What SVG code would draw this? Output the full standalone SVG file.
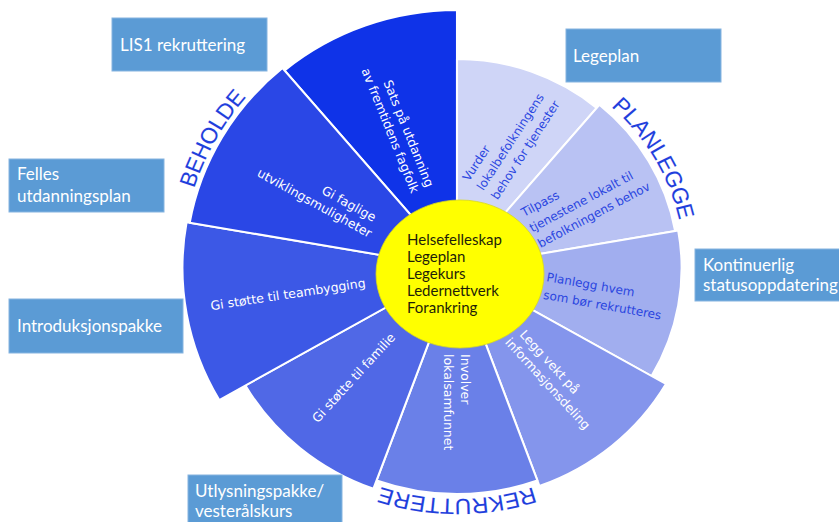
<svg xmlns="http://www.w3.org/2000/svg" width="839" height="522" viewBox="0 0 839 522">
<style>
.seg{stroke:#ffffff;stroke-width:2;stroke-linejoin:round}
.w{font-family:"DejaVu Sans",sans-serif;font-size:12.5px;fill:#ffffff}
.b{font-family:"DejaVu Sans",sans-serif;font-size:12px;fill:#2a45e0}
.lab{font-family:"Liberation Sans",Arial,sans-serif;font-size:22px;fill:#1f3fdc;stroke:#dfe5ff;stroke-width:0.5;paint-order:stroke}
.box{fill:#5b9bd5;stroke:#86b4e0;stroke-width:1}
.bt{font-family:Lato,"Open Sans",sans-serif;font-size:17px;fill:#ffffff}
.ct{font-family:Lato,"Open Sans",sans-serif;font-size:15px;fill:#1e1e08}
</style>
<defs>
<path id="arcBeholde" d="M-265,0 A265,265 0 0 1 -132.5,-229.5"/>
<path id="arcPlanlegge" d="M74.9,-205.8 A219,219 0 0 1 215.7,38"/>
<path id="arcRekruttere" d="M148.5,176.9 A231,231 0 0 1 -148.5,176.9"/>
</defs>
<rect width="839" height="522" fill="#ffffff"/>
<g id="wheel" transform="translate(457,268) scale(1.04,1)">
<path id="seg-sats" class="seg" fill="#0f33e8" d="M0,0 L-165.8,-197.6 A258,258 0 0 1 0,-258 Z"/>
<path id="seg-vurder" class="seg" fill="#cfd5f7" d="M0,0 L0,-209 A209,209 0 0 1 134.3,-160.1 Z"/>
<path id="seg-tilpass" class="seg" fill="#b9c2f3" d="M0,0 L136.9,-163.2 A213,213 0 0 1 209.8,-37 Z"/>
<path id="seg-planlegg" class="seg" fill="#a1aeef" d="M0,0 L212.7,-37.5 A216,216 0 0 1 187.1,108 Z"/>
<path id="seg-legg" class="seg" fill="#8495ec" d="M0,0 L200.9,116 A232,232 0 0 1 79.3,218 Z"/>
<path id="seg-involver" class="seg" fill="#6a80e8" d="M0,0 L77.3,212.4 A226,226 0 0 1 -77.3,212.4 Z"/>
<path id="seg-familie" class="seg" fill="#5068e6" d="M0,0 L-80.4,220.8 A235,235 0 0 1 -203.5,117.5 Z"/>
<path id="seg-team" class="seg" fill="#3c58e6" d="M0,0 L-228.6,132 A264,264 0 0 1 -260,-45.8 Z"/>
<path id="seg-faglige" class="seg" fill="#2a47e6" d="M0,0 L-257,-45.3 A261,261 0 0 1 -167.8,-199.9 Z"/>
<text class="lab"><textPath href="#arcBeholde" startOffset="48%" text-anchor="middle">BEHOLDE</textPath></text>
<text class="lab"><textPath href="#arcPlanlegge" startOffset="50%" text-anchor="middle">PLANLEGGE</textPath></text>
<text class="lab"><textPath href="#arcRekruttere" startOffset="50%" text-anchor="middle">REKRUTTERE</textPath></text>
</g>
<g id="segment-texts">
<text class="w" transform="translate(426,188) rotate(68)" text-anchor="end"><tspan x="0" y="0">Sats på utdanning</tspan><tspan x="0" y="16">av fremtidens fagfolk</tspan></text>
<text class="w" transform="translate(373,222) rotate(29)" text-anchor="end"><tspan x="0" y="0">Gi faglige</tspan><tspan x="4" y="16">utviklingsmuligheter</tspan></text>
<text class="w" transform="translate(366,287) rotate(-8.5)" text-anchor="end">Gi støtte til teambygging</text>
<text class="w" transform="translate(396,338) rotate(-47.5)" text-anchor="end">Gi støtte til familie</text>
<text class="w" transform="translate(461,354) rotate(90)"><tspan x="0" y="0">Involver</tspan><tspan x="0" y="17">lokalsamfunnet</tspan></text>
<text class="w" transform="translate(519,335) rotate(47.5)"><tspan x="0" y="0">Legg vekt på</tspan><tspan x="-4" y="16">informasjonsdeling</tspan></text>
<text class="b" transform="translate(546,281) rotate(10)"><tspan x="0" y="0">Planlegg hvem</tspan><tspan x="0" y="18">som bør rekrutteres</tspan></text>
<text class="b" transform="translate(524,217) rotate(-28)"><tspan x="0" y="0">Tilpass</tspan><tspan x="0" y="17.5">tjenestene lokalt til</tspan><tspan x="0" y="35">befolkningens behov</tspan></text>
<text class="b" transform="translate(469,182) rotate(-57)"><tspan x="0" y="0">Vurder</tspan><tspan x="0" y="17">lokalbefolkningens</tspan><tspan x="0" y="34">behov for tjenester</tspan></text>
</g>
<g id="center">
<ellipse cx="460" cy="274" rx="84" ry="74" fill="#ffff00" stroke="#d8d820" stroke-width="0.8"/>
<text class="ct"><tspan x="407" y="245">Helsefelleskap</tspan><tspan x="407" y="262">Legeplan</tspan><tspan x="407" y="279">Legekurs</tspan><tspan x="407" y="296">Ledernettverk</tspan><tspan x="407" y="313">Forankring</tspan></text>
</g>
<g id="box-lis1"><rect class="box" x="112" y="18" width="155" height="53"/><text class="bt" x="120" y="51">LIS1 rekruttering</text></g>
<g id="box-felles"><rect class="box" x="9" y="159" width="155" height="53"/><text class="bt"><tspan x="17" y="180">Felles</tspan><tspan x="17" y="202">utdanningsplan</tspan></text></g>
<g id="box-intro"><rect class="box" x="9" y="299" width="174" height="54"/><text class="bt" x="17" y="332">Introduksjonspakke</text></g>
<g id="box-legeplan"><rect class="box" x="566" y="29" width="155" height="53"/><text class="bt" x="573" y="62">Legeplan</text></g>
<g id="box-kontinuerlig"><rect class="box" x="695" y="249" width="150" height="52"/><text class="bt"><tspan x="703" y="271">Kontinuerlig</tspan><tspan x="703" y="291">statusoppdatering</tspan></text></g>
<g id="box-utlysning"><rect class="box" x="188" y="475" width="154" height="60"/><text class="bt"><tspan x="195" y="497">Utlysningspakke/</tspan><tspan x="195" y="517">vesterålskurs</tspan></text></g>
</svg>
